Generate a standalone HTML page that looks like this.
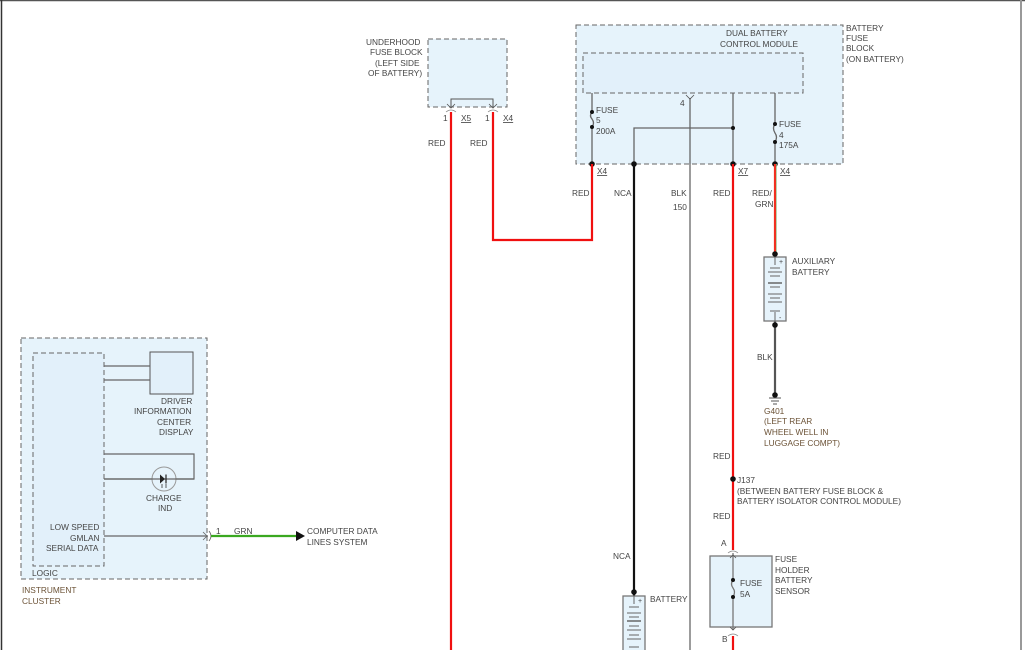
<!DOCTYPE html>
<html><head><meta charset="utf-8"><style>
html,body{margin:0;padding:0;background:#fff;}
svg{display:block;}
text{font-family:"Liberation Sans",sans-serif;font-size:8.3px;fill:#444;}
.b{fill:#6b5236;}
</style></head><body>
<svg width="1025" height="650" viewBox="0 0 1025 650">
<line x1="0" y1="0.5" x2="1025" y2="0.5" stroke="#555" stroke-width="1.5"/>
<line x1="1021" y1="0" x2="1021" y2="650" stroke="#999" stroke-width="2"/>
<line x1="1.5" y1="0" x2="1.5" y2="650" stroke="#333" stroke-width="1.5"/>

<!-- underhood fuse block -->
<rect x="428" y="39" width="79" height="68" fill="#e6f3fb" stroke="#666" stroke-dasharray="5,3"/>
<polyline points="451,107 451,99 493,99 493,107" fill="none" stroke="#555"/>
<path d="M447,104 l4,4 l4,-4 M489,104 l4,4 l4,-4" fill="none" stroke="#555" stroke-width=".8"/>
<path d="M446,112 q5,-4 10,0 M488,112 q5,-4 10,0" fill="none" stroke="#888" stroke-width=".8"/>
<text x="366" y="45">UNDERHOOD</text>
<text x="370" y="55">FUSE BLOCK</text>
<text x="375" y="66">(LEFT SIDE</text>
<text x="368" y="76">OF BATTERY)</text>
<text x="443" y="121">1</text><text x="461" y="121" text-decoration="underline">X5</text>
<text x="485" y="121">1</text><text x="503" y="121" text-decoration="underline">X4</text>
<text x="428" y="146">RED</text><text x="470" y="146">RED</text>

<!-- battery fuse block -->
<rect x="576" y="25" width="267" height="139" fill="#e6f3fb" stroke="#666" stroke-dasharray="5,3"/>
<rect x="583" y="53" width="220" height="40" fill="#e2f0fa" stroke="#666" stroke-dasharray="5,3"/>
<text x="726" y="36">DUAL BATTERY</text>
<text x="720" y="47">CONTROL MODULE</text>
<text x="846" y="31">BATTERY</text><text x="846" y="41">FUSE</text><text x="846" y="51">BLOCK</text><text x="846" y="62">(ON BATTERY)</text>
<g stroke="#666" stroke-width="1.3" fill="none">
<line x1="592" y1="93" x2="592" y2="112"/><line x1="592" y1="127" x2="592" y2="164"/>
<path d="M592,112 q-3,4 0,7 q3,4 0,8"/>
<line x1="733" y1="93" x2="733" y2="164"/>
<polyline points="634,164 634,128 733,128"/>
<line x1="775" y1="93" x2="775" y2="124"/><line x1="775" y1="142" x2="775" y2="164"/>
<path d="M775,124 q-3,4 0,9 q3,4 0,9"/>
<line x1="690" y1="98" x2="690" y2="650"/>
</g>
<path d="M686,95 l4,4 l4,-4" fill="none" stroke="#555" stroke-width=".8"/>
<text x="680" y="106">4</text>
<g fill="#111"><circle cx="592" cy="112" r="2"/><circle cx="592" cy="127" r="2"/><circle cx="733" cy="128" r="2"/>
<circle cx="775" cy="124" r="2"/><circle cx="775" cy="142" r="2"/>
<circle cx="592" cy="164" r="2.8"/><circle cx="634" cy="164" r="2.8"/><circle cx="733" cy="164" r="2.8"/><circle cx="775" cy="164" r="2.8"/></g>
<text x="596" y="113">FUSE</text><text x="596" y="123">5</text><text x="596" y="134">200A</text>
<text x="779" y="127">FUSE</text><text x="779" y="138">4</text><text x="779" y="148">175A</text>
<text x="597" y="174" text-decoration="underline">X4</text>
<text x="738" y="174" text-decoration="underline">X7</text>
<text x="780" y="174" text-decoration="underline">X4</text>
<text x="572" y="196">RED</text><text x="614" y="196">NCA</text><text x="671" y="196">BLK</text><text x="673" y="210">150</text>
<text x="713" y="196">RED</text><text x="752" y="196">RED/</text><text x="755" y="207">GRN</text>

<!-- wires -->
<g fill="none" stroke-width="2.2">
<line x1="451" y1="112" x2="451" y2="650" stroke="#f01010"/>
<polyline points="493,112 493,240 592,240 592,164" stroke="#f01010"/>
<line x1="634" y1="164" x2="634" y2="597" stroke="#111"/>
<line x1="733" y1="164" x2="733" y2="550" stroke="#f01010"/>
<line x1="733" y1="636" x2="733" y2="650" stroke="#f01010"/>
<line x1="775" y1="164" x2="775" y2="255" stroke="#f03020"/>
<line x1="775" y1="321" x2="775" y2="393" stroke="#555"/>
</g>
<line x1="776.5" y1="164" x2="776.5" y2="255" stroke="#9c9" stroke-width=".7"/>

<!-- aux battery -->
<rect x="764" y="257" width="22" height="64" fill="#e6f3fb" stroke="#777" stroke-width="1.3"/>
<g stroke="#666"><line x1="775" y1="257" x2="775" y2="265"/><line x1="775" y1="312" x2="775" y2="321"/>
<line x1="770" y1="268" x2="780" y2="268"/><line x1="768" y1="272" x2="782" y2="272"/><line x1="770" y1="276" x2="780" y2="276"/>
<line x1="768" y1="283" x2="782" y2="283" stroke-width="1.5"/><line x1="770" y1="287" x2="780" y2="287"/>
<line x1="768" y1="294" x2="782" y2="294"/><line x1="770" y1="298" x2="780" y2="298"/><line x1="768" y1="302" x2="782" y2="302"/><line x1="770" y1="311" x2="780" y2="311"/></g>
<text x="779" y="264" style="font-size:7px">+</text><text x="779" y="320" style="font-size:7px">-</text>
<circle cx="775" cy="254" r="2.8" fill="#111"/><circle cx="775" cy="325" r="2.8" fill="#111"/>
<text x="792" y="264">AUXILIARY</text><text x="792" y="275">BATTERY</text>
<text x="757" y="360">BLK</text>
<circle cx="775" cy="395" r="2.8" fill="#111"/>
<g stroke="#555"><line x1="769" y1="398" x2="781" y2="398"/><line x1="771" y1="401" x2="779" y2="401"/><line x1="773" y1="404" x2="777" y2="404"/></g>
<text class="b" x="764" y="414">G401</text><text class="b" x="764" y="424">(LEFT REAR</text><text class="b" x="764" y="435">WHEEL WELL IN</text><text class="b" x="764" y="446">LUGGAGE COMPT)</text>

<text x="713" y="459">RED</text>
<circle cx="733" cy="479" r="2.8" fill="#111"/>
<text x="737" y="483">J137</text>
<text x="737" y="494">(BETWEEN BATTERY FUSE BLOCK &amp;</text>
<text x="737" y="504">BATTERY ISOLATOR CONTROL MODULE)</text>
<text x="713" y="519">RED</text>

<!-- fuse holder -->
<text x="721" y="546">A</text>
<path d="M728,553 q5,-4 10,0" fill="none" stroke="#888" stroke-width=".8"/>
<rect x="710" y="556" width="62" height="71" fill="#e6f3fb" stroke="#777" stroke-width="1.3"/>
<g stroke="#777" stroke-width="1.3" fill="none"><line x1="733" y1="553" x2="733" y2="580"/><line x1="733" y1="597" x2="733" y2="630"/>
<path d="M733,580 q-3,4 0,8 q3,4 0,9"/></g>
<path d="M730,558 l3,-3 l3,3 M730,627 l3,3 l3,-3" fill="none" stroke="#555" stroke-width=".8"/>
<circle cx="733" cy="580" r="2" fill="#111"/><circle cx="733" cy="597" r="2" fill="#111"/>
<text x="740" y="586">FUSE</text><text x="740" y="597">5A</text>
<text x="775" y="562">FUSE</text><text x="775" y="573">HOLDER</text><text x="775" y="583">BATTERY</text><text x="775" y="594">SENSOR</text>
<path d="M728,636 q5,-4 10,0" fill="none" stroke="#888" stroke-width=".8"/>
<text x="722" y="642">B</text>

<!-- main battery -->
<text x="613" y="559">NCA</text>
<rect x="623" y="596" width="22" height="60" fill="#e6f3fb" stroke="#777" stroke-width="1.3"/>
<g stroke="#666"><line x1="634" y1="596" x2="634" y2="604"/><line x1="629" y1="607" x2="639" y2="607"/><line x1="627" y1="613" x2="641" y2="613"/>
<line x1="629" y1="617" x2="639" y2="617"/><line x1="627" y1="621" x2="641" y2="621" stroke-width="1.5"/><line x1="629" y1="626" x2="639" y2="626"/>
<line x1="627" y1="630" x2="641" y2="630"/><line x1="629" y1="635" x2="639" y2="635"/><line x1="627" y1="639" x2="641" y2="639"/><line x1="629" y1="647" x2="639" y2="647"/></g>
<text x="638" y="603" style="font-size:7px">+</text>
<circle cx="634" cy="592" r="2.8" fill="#111"/>
<text x="650" y="602">BATTERY</text>

<!-- instrument cluster -->
<rect x="21" y="338" width="186" height="241" fill="#e6f3fb" stroke="#666" stroke-dasharray="5,3"/>
<rect x="33" y="353" width="71" height="213" fill="#e2f0fa" stroke="#666" stroke-dasharray="5,3"/>
<rect x="150" y="352" width="43" height="42" fill="#e2f0fa" stroke="#555"/>
<g stroke="#666" stroke-width="1.2" fill="none">
<line x1="104" y1="366" x2="150" y2="366"/><line x1="104" y1="380" x2="150" y2="380"/>
<polyline points="104,454 194,454 194,479 104,479"/>
<line x1="104" y1="536" x2="208" y2="536"/>
</g>
<circle cx="164" cy="479" r="12" fill="#e6f3fb" stroke="#999"/>
<line x1="104" y1="479" x2="194" y2="479" stroke="#666" stroke-width="1.2"/>
<path d="M160,474.5 v9 l5,-4.5 z" fill="#222"/>
<line x1="166" y1="474.5" x2="166" y2="483.5" stroke="#222" stroke-width="1.2"/>
<path d="M162,484 v4 M166,484 v4" stroke="#333" stroke-width=".8"/>
<text x="161" y="404">DRIVER</text><text x="134" y="414">INFORMATION</text><text x="157" y="425">CENTER</text><text x="159" y="435">DISPLAY</text>
<text x="146" y="501">CHARGE</text><text x="158" y="511">IND</text>
<text x="50" y="530">LOW SPEED</text><text x="70" y="541">GMLAN</text><text x="46" y="551">SERIAL DATA</text>
<text x="32" y="576">LOGIC</text>
<text class="b" x="22" y="593">INSTRUMENT</text><text class="b" x="22" y="604">CLUSTER</text>
<path d="M203,532 l4,4 l-4,4 M209,531 q4,5 0,10" fill="none" stroke="#666" stroke-width=".8"/>
<text x="216" y="534">1</text><text x="234" y="534">GRN</text>
<line x1="211" y1="536" x2="298" y2="536" stroke="#3aa820" stroke-width="2.2"/>
<path d="M296,531 l9,5 l-9,5 z" fill="#111"/>
<text x="307" y="534">COMPUTER DATA</text><text x="307" y="545">LINES SYSTEM</text>
</svg>
</body></html>
